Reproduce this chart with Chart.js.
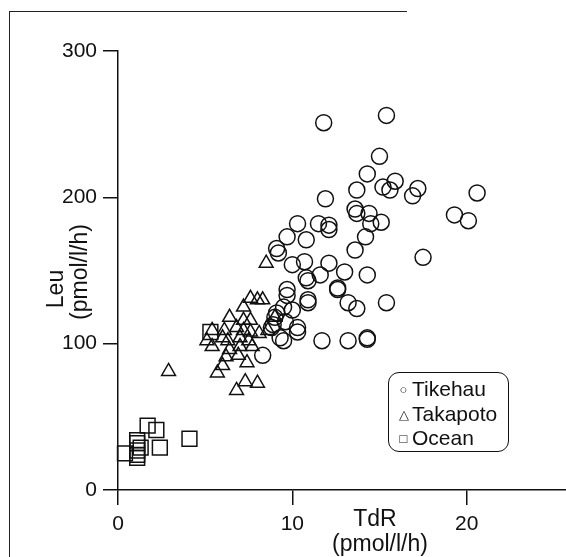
<!DOCTYPE html>
<html>
<head>
<meta charset="utf-8">
<script src="https://cdn.jsdelivr.net/npm/chart.js@4"></script>
<style>
    html, body { margin: 0; background: #fff; overflow: hidden; }
    #wrap { position: relative; width: 566px; height: 557px; overflow: hidden; }
    #chart { display: block; position: absolute; left: 0; top: 0; }
    #frame {
        position: absolute; left: 9px; top: 11px; width: 397px; height: 560px;
        border-left: 1.5px solid #222; border-top: 1.5px solid #222; pointer-events: none;
    }
    #legend {
        position: absolute; left: 388px; top: 372px; width: 121px; height: 80px;
        border: 1.5px solid #111; border-radius: 11px; box-sizing: border-box;
        font: 21px "Liberation Sans", Arial, sans-serif; color: #111;
        padding: 4px 0 0 6px; line-height: 23.5px;
    }
    #legend .sym { display: inline-block; width: 17px; font-size: 13px; text-align: center; vertical-align: 2px; }
</style>
</head>
<body>
<div id="wrap">
    <canvas id="chart" width="566" height="557"></canvas>
    <div id="frame"></div>
    <div id="legend">
        <div><span class="sym">○</span>Tikehau</div>
        <div><span class="sym">△</span>Takapoto</div>
        <div><span class="sym">□</span>Ocean</div>
    </div>
</div>
<script>
    // valores (TdR, Leu)
    const tikehauX = [11.8, 15.4, 15.0, 14.3, 13.7, 11.9, 15.2, 15.9, 15.6, 17.2, 16.9, 20.6, 19.3, 20.1,
        13.6, 13.7, 14.4, 15.1, 14.5, 14.2, 13.6, 17.5, 10.3, 11.5, 12.1, 12.1, 9.7, 10.8, 9.1, 9.2,
        10.7, 12.1, 10.0, 11.6, 10.8, 10.9, 13.0, 14.3, 12.6, 12.6, 15.4, 13.2, 13.7, 9.7, 9.7, 10.9,
        10.9, 9.5, 10.0, 9.0, 8.9, 9.6, 10.3, 10.3, 9.3, 9.5, 11.7, 13.2, 14.3, 14.3, 8.3, 9.1, 8.8];
    const tikehauY = [251, 256, 228, 216, 205, 199, 207, 211, 205, 206, 201, 203, 188, 184,
        192, 189, 189, 183, 182, 173, 164, 159, 182, 182, 181, 178, 173, 171, 165, 162,
        156, 155, 154, 147, 145, 143, 149, 147, 137, 138, 128, 128, 124, 137, 133, 130,
        128, 125, 123, 118, 113, 115, 111, 108, 104, 102, 102, 102, 104, 103, 92, 121, 111];

    const takapotoX = [8.5, 7.6, 8.0, 8.3, 7.2, 6.4, 7.2, 7.6, 5.4, 6.1, 6.8, 7.2, 7.6, 9.0, 5.1, 6.0, 6.3,
        7.0, 7.5, 8.1, 5.4, 6.4, 7.0, 7.7, 6.2, 6.9, 7.4, 6.0, 5.7, 2.9, 7.3, 8.0, 6.8, 8.6];
    const takapotoY = [155, 131, 130, 130, 125, 118, 116, 116, 109, 109, 111, 109, 108, 118, 102, 104, 102,
        104, 102, 107, 98, 96, 98, 98, 91, 92, 87, 85, 80, 81, 74, 73, 68, 109];

    const oceanX = [1.7, 2.2, 2.4, 1.1, 1.1, 1.1, 1.1, 1.1, 0.4, 1.3, 4.1, 5.3];
    const oceanY = [44, 41, 29, 34, 32, 27, 24, 22, 25, 29, 35, 108];

    const xTicks = [0, 10, 20];
    const yTicks = [0, 100, 200, 300];

    const zip = (xs, ys) => xs.map((x, i) => ({ x: x, y: ys[i] }));
    const font = '"Liberation Sans", Arial, sans-serif';

    // titulos de ejes dibujados a mano
    const axisTitles = {
        id: 'axisTitles',
        afterDraw: function (chart) {
            const ctx = chart.ctx;
            ctx.save();
            ctx.fillStyle = '#111';
            ctx.font = '23px ' + font;
            ctx.textAlign = 'center';
            ctx.textBaseline = 'middle';
            ctx.save();
            ctx.translate(57, 289);
            ctx.rotate(-Math.PI / 2);
            ctx.fillText('Leu', 0, 0);
            ctx.restore();
            ctx.save();
            ctx.translate(81, 272);
            ctx.rotate(-Math.PI / 2);
            ctx.fillText('(pmol/l/h)', 0, 0);
            ctx.restore();
            ctx.fillText('TdR', 375, 520);
            ctx.fillText('(pmol/l/h)', 380, 545);
            ctx.restore();
        }
    };

    const ds = (label, data, style, radius) => ({
        label: label,
        data: data,
        pointStyle: style,
        pointRadius: radius,
        pointBorderColor: '#111',
        pointBackgroundColor: 'rgba(0,0,0,0)',
        pointBorderWidth: 1.5,
        clip: false
    });

    const axis = (min, max, ticks, afterFit) => ({
        type: 'linear',
        min: min,
        max: max,
        afterFit: afterFit,
        afterBuildTicks: function (s) { s.ticks = ticks.map(v => ({ value: v })); },
        grid: { drawOnChartArea: false, drawTicks: true, tickLength: 15, color: '#111', lineWidth: 1.5 },
        border: { display: true, color: '#111', width: 1.5 },
        ticks: { color: '#111', font: { family: font, size: 21 } }
    });

    const xAxis = axis(0, 25.7, xTicks, s => { s.height = 67; s.paddingRight = 0; s.paddingLeft = 0; });
    xAxis.ticks.padding = 7;
    xAxis.ticks.maxRotation = 0;
    const yAxis = axis(0, 300, yTicks, s => { s.width = 118; });
    yAxis.ticks.padding = 6;

    new Chart(document.getElementById('chart'), {
        type: 'scatter',
        data: {
            datasets: [
                ds('Tikehau', zip(tikehauX, tikehauY), 'circle', 8),
                ds('Takapoto', zip(takapotoX, takapotoY), 'triangle', 8),
                ds('Ocean', zip(oceanX, oceanY), 'rect', 10.5)
            ]
        },
        options: {
            responsive: false,
            animation: false,
            layout: { autoPadding: false, padding: { top: 51, left: 0, right: 0, bottom: 0 } },
            plugins: { legend: { display: false }, tooltip: { enabled: false } },
            scales: { x: xAxis, y: yAxis }
        },
        plugins: [axisTitles]
    });
</script>
</body>
</html>
